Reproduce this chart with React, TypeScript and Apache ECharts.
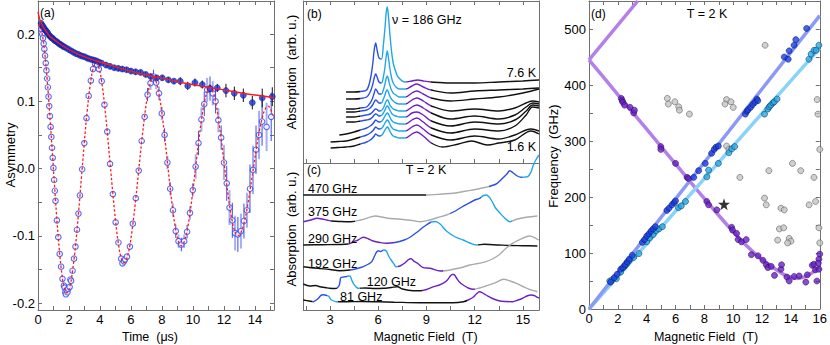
import React, { useEffect, useRef } from 'react';
import * as echarts from 'echarts';

const FONT = '"Liberation Sans", Arial, Helvetica, sans-serif';
const AXC = '#707070';
const K = '#111111';
const BLUE = '#2a4fe6';
const CYAN = '#22a6e6';
const PURPLE = '#6c1fc6';
const GREY = '#aaaaaa';

// ---------------- Panel (a): asymmetry vs time ----------------
const zfData = [
  [0.2,0.216],[0.27,0.213],[0.34,0.211],[0.41,0.208],[0.48,0.206],[0.55,0.204],[0.62,0.202],[0.69,0.199],[0.77,0.197],[0.85,0.195],[0.93,0.194],[1.01,0.192],[1.1,0.190],[1.2,0.189],[1.3,0.187],[1.4,0.185],[1.5,0.184],[1.6,0.182],[1.7,0.181],[1.85,0.179],[2.0,0.177],[2.15,0.175],[2.3,0.173],[2.45,0.171],[2.6,0.170],[2.75,0.168],[2.9,0.167],[3.05,0.166],[3.2,0.164],[3.35,0.163],[3.5,0.162],[3.65,0.161],[3.8,0.160],[3.95,0.158],[4.1,0.157],
  [4.39,0.154],[4.65,0.152],[4.92,0.150],[5.18,0.149],[5.44,0.148],[5.72,0.147],[6.0,0.145],[6.3,0.144],[6.62,0.143],[6.95,0.140],[7.27,0.137],[7.66,0.135],[8.02,0.135],[8.41,0.132],[8.77,0.130],[9.18,0.130],[9.66,0.123],[10.13,0.128],[10.6,0.125],[11.1,0.119],[11.57,0.120],[12.13,0.116],[12.67,0.112],[13.25,0.109],[13.83,0.098],[14.47,0.105],[15.12,0.107]
];
const zfErrBands = [[4.2,0.002],[9,0.004],[12,0.006],[14,0.01],[16,0.014]];

const tfData = [
  [0.23,0.207],[0.275,0.200],[0.32,0.194],[0.365,0.186],[0.41,0.178],[0.455,0.168],[0.5,0.157],[0.545,0.146],[0.59,0.134],[0.635,0.121],[0.68,0.107],[0.725,0.093],[0.77,0.078],[0.815,0.062],[0.86,0.047],[0.905,0.031],[0.95,0.016],[0.995,0.001],[1.04,-0.017],[1.085,-0.033],[1.13,-0.048],[1.22,-0.077],[1.31,-0.102],[1.4,-0.127],[1.49,-0.146],[1.58,-0.164],[1.67,-0.174],[1.72,-0.177],[1.76,-0.184],[1.8,-0.187],[1.85,-0.181],[1.9,-0.184],[1.945,-0.179],[2.04,-0.176],[2.09,-0.165],[2.135,-0.167],[2.23,-0.152],[2.325,-0.134],[2.42,-0.116],[2.515,-0.091],[2.61,-0.067],[2.705,-0.040],
  [2.85,-0.001],[2.99,0.038],[3.13,0.075],[3.27,0.108],[3.41,0.131],[3.55,0.148],[3.68,0.156],[3.82,0.154],
  [3.93,0.148],[4.11,0.130],[4.29,0.095],[4.47,0.055],[4.65,0.007],[4.83,-0.038],[5.01,-0.080],[5.19,-0.110],[5.37,-0.134],[5.45,-0.141],[5.55,-0.138],[5.62,-0.135],
  [5.74,-0.131],[5.93,-0.116],[6.12,-0.082],[6.31,-0.044],[6.5,-0.003],[6.69,0.041],[6.88,0.077],[7.07,0.110],[7.26,0.127],[7.45,0.137],
  [7.63,0.128],[7.81,0.112],[7.99,0.082],[8.17,0.050],[8.35,0.009],[8.53,-0.030],[8.71,-0.062],[8.89,-0.093],[9.07,-0.108],[9.25,-0.113],
  [9.435,-0.108],[9.62,-0.094],[9.805,-0.066],[9.99,-0.032],[10.175,0.003],[10.36,0.038],[10.545,0.073],[10.73,0.096],[10.915,0.117],[11.1,0.119],
  [11.28,0.112],[11.46,0.100],[11.64,0.072],[11.82,0.046],[12.0,0.009],[12.18,-0.022],[12.36,-0.058],[12.54,-0.077],[12.72,-0.096],[12.9,-0.098],
  [13.095,-0.093],[13.29,-0.078],[13.485,-0.062],[13.68,-0.030],[13.875,-0.002],[14.07,0.028],[14.265,0.050],[14.46,0.070],[14.75,0.062],[15.05,0.077]
];
const tfErrBands = [[3,0.003],[7,0.004],[10,0.01],[12,0.018],[13.5,0.026],[16,0.036]];

const zfFit = [
  [0,0.233],[0.1,0.223],[0.2,0.217],[0.34,0.211],[0.5,0.205],[0.77,0.197],[1.2,0.189],[1.85,0.179],[2.5,0.171],[3.14,0.165],[3.79,0.160],[4.5,0.155],[5.5,0.148],[6.5,0.142],[7.5,0.137],[8.5,0.132],[9.5,0.127],[10.5,0.123],[11.5,0.119],[12.5,0.115],[13.5,0.111],[14.5,0.108],[15.23,0.105]
];
const tfFit = [
  [0.05,0.215],[0.23,0.205],[0.41,0.177],[0.59,0.133],[0.77,0.077],[0.95,0.015],[1.13,-0.047],[1.31,-0.103],[1.49,-0.147],[1.67,-0.175],[1.85,-0.185],
  [2.04,-0.177],[2.23,-0.152],[2.42,-0.115],[2.61,-0.067],[2.8,-0.014],[2.99,0.039],[3.18,0.087],[3.37,0.124],[3.56,0.149],[3.75,0.157],
  [3.93,0.150],[4.11,0.129],[4.29,0.096],[4.47,0.054],[4.65,0.0085],[4.83,-0.037],[5.01,-0.079],[5.19,-0.112],[5.37,-0.133],[5.55,-0.140],
  [5.74,-0.133],[5.93,-0.114],[6.12,-0.083],[6.31,-0.045],[6.5,-0.0025],[6.69,0.040],[6.88,0.078],[7.07,0.109],[7.26,0.128],[7.45,0.135],
  [7.63,0.129],[7.81,0.111],[7.99,0.0835],[8.17,0.0486],[8.35,0.010],[8.53,-0.0286],[8.71,-0.0635],[8.89,-0.0911],[9.07,-0.1089],[9.25,-0.115],
  [9.435,-0.109],[9.62,-0.0926],[9.805,-0.0666],[9.99,-0.0338],[10.175,0.0025],[10.36,0.0388],[10.545,0.0716],[10.73,0.0976],[10.915,0.1143],[11.1,0.120],
  [11.28,0.1146],[11.46,0.099],[11.64,0.0747],[11.82,0.044],[12.0,0.010],[12.18,-0.024],[12.36,-0.0547],[12.54,-0.079],[12.72,-0.0946],[12.9,-0.100],
  [13.095,-0.0953],[13.29,-0.0816],[13.485,-0.0602],[13.68,-0.0333],[13.875,-0.0035],[14.07,0.0263],[14.265,0.0532],[14.46,0.0746],[14.655,0.0883],[14.85,0.093],
  [15.0,0.089],[15.15,0.079]
];

// ---------------- Panel (b): spectra at 186 GHz, 7.6 K (top) ... 1.6 K (bottom) ----------------
const specB0 = [[4.0,71],[4.5,71],[4.9,71.5],[5.28,73],[5.5,83],[5.65,98],[5.75,113],[5.84,120],[5.93,113],[6.05,105],[6.2,104],[6.32,118],[6.42,135],[6.5,151],[6.56,156],[6.63,148],[6.72,130],[6.82,113],[6.93,100],[7.1,91],[7.24,86],[7.66,81],[8.1,82],[8.45,83],[8.8,82],[9.3,81],[10.5,80],[12,80],[13.5,81],[15,82],[16,83]];
const specB1 = [[4.0,64],[4.5,64],[4.9,64.5],[5.28,66],[5.5,71],[5.65,78],[5.75,85],[5.84,89],[5.93,86],[6.05,81],[6.2,80],[6.32,86],[6.42,96],[6.5,107],[6.56,112],[6.63,106],[6.72,95],[6.82,86],[6.93,80],[7.1,76],[7.3,74],[7.7,74],[8.1,77],[8.4,79],[8.8,76],[9.3,73],[10.5,70],[12,72],[13.5,73],[15,74],[16,75]];
const specB2 = [[4.0,54],[4.5,54],[4.9,55],[5.28,56],[5.5,60],[5.65,65],[5.75,70],[5.84,74],[5.93,72],[6.05,69],[6.2,69],[6.32,73],[6.42,79],[6.5,85],[6.56,87],[6.63,84],[6.72,78],[6.82,73],[6.93,70],[7.1,68],[7.3,66],[7.7,66],[8.1,70],[8.4,72],[8.8,69],[9.3,65],[10.5,62],[12,64],[13.5,66],[15,70],[16,74]];
const specB3 = [[4.0,51],[4.5,51],[4.9,52],[5.28,53],[5.5,55],[5.65,58],[5.75,61],[5.84,63],[5.93,62],[6.05,60],[6.2,60],[6.32,64],[6.42,68],[6.5,72],[6.56,73],[6.63,71],[6.72,67],[6.82,64],[6.93,62],[7.1,60],[7.3,59],[7.7,59],[8.1,63],[8.4,65],[8.8,62],[9.3,57],[10.5,52],[12,54],[13.5,52],[14.5,55],[15.2,60],[15.6,62],[16,61]];
const specB4 = [[4.0,46],[4.5,46],[4.9,47],[5.28,48],[5.5,49],[5.65,51],[5.75,53],[5.84,54],[5.93,53.5],[6.05,52],[6.2,52.5],[6.32,55],[6.42,59],[6.5,62],[6.56,63],[6.63,62],[6.72,58],[6.82,56],[6.93,54],[7.1,53],[7.3,52],[7.7,52],[8.1,56],[8.4,58],[8.8,55],[9.3,50],[10.5,44],[12,47],[13.5,44],[14.5,48],[15.2,56],[15.6,60],[16,59]];
const specB5 = [[4.0,41],[4.5,41],[4.9,42],[5.28,43],[5.5,44],[5.65,46],[5.75,48],[5.84,49],[5.93,48.5],[6.05,47],[6.2,47.5],[6.32,50],[6.42,53],[6.5,56],[6.56,57],[6.63,56],[6.72,53],[6.82,50],[6.93,48],[7.1,47],[7.3,46],[7.7,46],[8.1,50],[8.4,51],[8.8,48],[9.3,42],[10.5,37],[12,41],[13.5,39],[14.5,43],[15.2,52],[15.6,58],[16,57]];
const specB6 = [[3.58,28],[4.0,29],[4.5,31],[4.9,33],[5.28,35],[5.5,37],[5.65,39],[5.75,41],[5.84,43],[5.93,42],[6.05,41],[6.2,41.5],[6.32,44],[6.42,47],[6.5,49],[6.56,50],[6.63,49],[6.72,46],[6.82,43],[6.93,41],[7.1,40],[7.3,39],[7.7,39],[8.1,43],[8.4,45],[8.8,41],[9.3,35],[10.5,30],[12,34],[13.5,32],[14.5,37],[15.2,48],[15.6,56],[16,55]];
const specB7 = [[3.04,21],[3.5,21.5],[4.0,22],[4.5,24],[4.9,26],[5.28,28],[5.5,30],[5.65,32],[5.75,34],[5.84,36],[5.93,35],[6.05,34],[6.2,34.5],[6.32,37],[6.42,40],[6.5,42],[6.56,43],[6.63,42],[6.72,39],[6.82,36],[6.93,34],[7.1,33],[7.3,32],[7.7,32],[8.1,36],[8.4,38],[8.8,34],[9.3,28],[10.5,23],[12,27],[13.5,24],[14.5,28],[15.5,34],[16,32]];
const specB8 = [[3.04,15],[3.5,15.5],[4.0,16],[4.5,17],[4.9,19],[5.28,21],[5.5,23],[5.65,25],[5.75,27],[5.84,29],[5.93,28],[6.05,27],[6.2,27.5],[6.32,30],[6.42,33],[6.5,35],[6.56,36],[6.63,35],[6.72,32],[6.82,29],[6.93,27],[7.1,26],[7.3,25],[7.7,25],[8.1,29],[8.4,31],[8.8,27],[9.3,20],[10.0,16],[11,19],[11.8,22],[12.8,18],[13.5,20],[14.5,23],[15.5,32],[16,29]];
const spectraB = [specB0, specB1, specB2, specB3, specB4, specB5, specB6, specB7, specB8];
const colorBoundsB = [4.85, 6.15, 7.7, 9.3];
const colorsB = [K, BLUE, CYAN, PURPLE, K];

// ---------------- Panel (c): spectra at T = 2 K ----------------
const spec470 = [[1.34,115],[3,115],[5,115],[7,115],[8.5,115],[9.0,115],[10.0,116],[10.66,116.7],[11.5,119],[12.2,121],[12.7,122.7],[13.0,124],[13.4,126.7],[13.75,132],[14.0,136],[14.18,139.3],[14.4,137],[14.65,134],[14.9,132.7],[15.15,133],[15.3,133.3],[15.5,138],[15.65,145],[15.8,150],[16.0,155]];
const spec375 = [[1.34,88.3],[1.8,90],[2.2,91.7],[2.5,91],[2.8,90],[3.1,89],[3.7,88.5],[4.3,88.3],[4.9,90],[5.6,93.3],[5.8,94],[6.5,92],[7.4,90.7],[8.3,89],[8.6,88.3],[9.2,90],[9.7,92.5],[10.24,95],[10.8,99],[11.2,103],[11.7,107.3],[12.0,110],[12.3,111.7],[12.55,114.5],[12.73,115],[12.9,113],[13.1,108],[13.3,102],[13.5,98.3],[13.8,93],[14.2,88.3],[14.6,90.7],[15.2,92.7],[15.9,94]];
const spec290 = [[1.34,65],[2.5,65.3],[3.5,65.5],[4.14,66],[4.5,68.5],[4.75,70],[5.07,72.7],[5.4,71],[5.68,69],[6.1,67.5],[6.5,66.7],[7.04,67.5],[7.62,70],[8.0,73],[8.45,78.3],[8.9,84],[9.3,88],[9.55,88.5],[9.85,86],[10.24,79],[10.8,73],[11.28,70],[11.7,67],[12.1,65],[12.6,65.7],[13.5,65],[14.2,64.5],[15,64.3],[15.9,64]];
const spec192 = [[1.34,43.3],[2.2,41.7],[3.0,40.5],[3.6,39.3],[4.24,40],[4.7,41.5],[5.07,43.3],[5.4,46],[5.6,48.3],[5.8,55],[5.9,58],[6.0,59.3],[6.15,58.5],[6.35,60],[6.5,59],[6.65,54],[6.8,50],[7.0,45.5],[7.1,43.3],[7.35,44],[7.63,46.7],[7.85,50],[8.04,51.3],[8.25,48.5],[8.45,46.7],[8.76,42.7],[9.24,41.7],[9.86,39],[10.3,39.5],[10.66,40.7],[11.2,42.5],[11.7,45],[12.2,46.5],[12.7,48.3],[13.1,51],[13.5,55],[13.9,61],[14.35,66.7],[14.97,71.7],[15.4,74],[15.8,71.7],[16,70]];
const spec120 = [[1.34,26],[1.75,24],[2.1,24.5],[2.37,23.3],[2.7,22.5],[2.99,21.7],[3.3,21.5],[3.45,22],[3.58,25],[3.66,32],[3.73,32.7],[3.85,33],[3.93,33.3],[4.04,33.5],[4.15,34],[4.24,34],[4.35,30],[4.45,26.7],[4.6,23.5],[4.75,21.7],[5.2,22],[5.8,21.5],[6.3,21.7],[6.8,22.5],[7.2,23.3],[7.5,21],[8.17,19.3],[8.6,19.3],[9.0,20.5],[9.45,23.3],[9.8,25],[10.1,27.3],[10.3,30],[10.45,33.3],[10.6,35.5],[10.7,35.5],[10.87,32],[11.05,28],[11.28,25],[11.6,22],[11.9,20.7],[12.3,22],[12.7,24],[13.3,27.3],[13.8,30.7],[14.2,29],[14.6,26.7],[15.0,23.5],[15.4,20.7],[15.9,18.3]];
const spec81 = [[1.34,10],[1.7,9],[1.96,8.3],[2.15,10],[2.27,11.7],[2.4,14],[2.48,15],[2.6,15.2],[2.68,15],[2.8,14.5],[2.9,14],[3.0,12],[3.1,10],[3.41,8.3],[4,8.3],[5,8.5],[6,8.2],[7,7.8],[8.6,7.3],[9.6,7.3],[10.66,7.3],[11.3,8.3],[11.6,10],[11.9,12.7],[12.1,16],[12.3,18.3],[12.5,17],[12.7,15],[13.1,11.5],[13.5,9.3],[13.9,8.5],[14.35,8.3],[14.7,10],[14.97,11.7],[15.25,14],[15.5,15],[15.7,14.5],[15.9,12.7],[16,12]];
const spectraC = [spec470, spec375, spec290, spec192, spec120, spec81];
const freqLabelsC = ['470 GHz', '375 GHz', '290 GHz', '192 GHz', '120 GHz', '81 GHz'];
const colorBoundsC = [
  [9.0, 12.9, 14.95],
  [3.05, 4.55, 10.45, 12.4, 14.3],
  [4.14, 7.0, 9.3, 12.2],
  [4.24, 6.3, 7.25, 10.0],
  [3.45, 4.04, 4.86, 8.7, 12.0],
  [1.86, 2.79, 3.5, 11.5],
];
const colorsC = [
  [K, GREY, BLUE, CYAN],
  [PURPLE, K, GREY, BLUE, CYAN, GREY],
  [K, PURPLE, BLUE, CYAN, K],
  [K, BLUE, CYAN, PURPLE, GREY],
  [K, BLUE, CYAN, K, PURPLE, GREY],
  [K, BLUE, CYAN, K, PURPLE],
];

// ---------------- Panel (d): frequency-field diagram ----------------
const fitPurpleUp = [[0,445],[3.38,550]];
const fitPurpleDown = [[0,445],[1,414],[2,383],[3,352],[4,321],[5,290],[6,259],[7,228],[8,197],[9,167],[10,138],[11,111],[12,88],[13,70],[13.7,59],[14.3,55],[14.8,56],[15.3,62],[15.7,69],[16,76]];
const fitBlue = [[0,0],[16,524]];
const fitLightBlue = [[0,0],[16,466]];
const dotsBlue = [[1.5,48],[1.75,56],[1.95,62],[2.2,71],[2.35,74],[2.5,79],[2.65,84],[2.8,89],[3.0,96],[3.7,119],[3.85,124],[4.0,130],[4.15,134],[4.3,139],[4.45,143],[4.6,147],[5.4,176],[5.55,180],[5.75,186],[5.9,190],[6.0,193],[7.26,235],[7.6,247],[8.06,260],[8.5,278],[8.68,285],[8.8,289],[8.97,291],[10.84,348],[10.95,353],[11.03,356],[11.2,360],[11.35,365],[11.5,369],[11.64,375],[11.7,372],[13.54,450],[13.81,446],[13.88,461],[14.22,471],[14.34,481],[15.09,501]];
const dotsLightBlue = [[1.44,50],[1.6,52],[1.9,54],[2.2,66],[2.44,75],[2.6,80],[2.78,86],[3.1,92],[3.46,99],[4.0,120],[4.2,127],[4.45,133],[4.65,140],[4.85,143],[5.09,147],[6.2,181],[6.4,184],[6.69,192],[8.17,236],[8.29,248],[8.97,260],[9.7,279],[9.9,286],[10.1,290],[12.17,348],[12.4,357],[12.5,361],[12.6,364],[12.75,368],[12.85,370],[13.04,375],[15.25,446],[15.4,455],[15.6,462],[15.75,462],[15.94,471]];
const dotsPurple = [[2.24,376],[2.3,372],[2.35,369],[2.47,364],[2.85,360],[3.1,350],[3.15,355],[4.98,290],[4.98,285],[6.0,260],[6.8,235],[6.9,233],[8.17,192],[8.29,186],[8.86,177],[9.89,146],[9.95,141],[10.23,135],[10.34,124],[10.57,120],[10.9,124],[11.26,97],[11.72,95],[12.06,87],[12.29,79],[12.4,74],[12.63,76],[12.86,60],[13.31,71],[13.35,79],[13.72,57],[13.88,50],[14.22,58],[14.57,59],[15.03,48],[15.14,61],[15.48,78],[15.7,70],[15.8,50],[15.94,71],[15.94,89],[16.0,98],[15.6,80],[15.9,82]];
const dotsGrey = [[12.21,471],[5.43,376],[5.5,366],[5.95,370],[6.22,361],[6.27,355],[6.96,348],[9.54,374],[9.43,366],[9.84,370],[10.0,360],[15.82,374],[15.87,348],[16.0,285],[9.54,291],[9.7,285],[10.46,235],[12.47,247],[14.11,260],[14.68,247],[15.6,235],[12.17,198],[12.29,186],[13.31,180],[13.54,177],[13.08,123],[13.2,143],[13.5,145],[13.88,126],[14.0,121],[13.77,118],[15.26,186],[15.71,192],[15.94,145],[16.0,118]];
const starPoint = [[9.36,187]];

// tick / label values
const ticksA_x = [0,1,2,3,4,5,6,7,8,9,10,11,12,13,14,15];
const labelsA_x = [0,2,4,6,8,10,12,14];
const ticksA_y = [-0.2,-0.15,-0.1,-0.05,0,0.05,0.1,0.15,0.2];
const labelsA_y = [-0.2,-0.1,0,0.1,0.2];
const ticksBC_x = [1.5,3,4.5,6,7.5,9,10.5,12,13.5,15];
const labelsBC_x = [3,6,9,12,15];
const ticksD_x = [0,1,2,3,4,5,6,7,8,9,10,11,12,13,14,15,16];
const labelsD_x = [0,2,4,6,8,10,12,14,16];
const ticksD_y = [0,50,100,150,200,250,300,350,400,450,500,550];
const labelsD_y = [0,100,200,300,400,500];

function errFor(t: number, bands: number[][]) {
  for (const b of bands) if (t < b[0]) return b[1];
  return bands[bands.length - 1][1];
}

function axis(p: any) {
  return {
    type: 'value',
    gridIndex: p.grid,
    position: p.position,
    min: p.min,
    max: p.max,
    axisLine: { show: true, onZero: false, lineStyle: { color: AXC, width: 1 } },
    axisTick: p.ticks
      ? { show: true, inside: true, length: 4, customValues: p.ticks, lineStyle: { color: AXC, width: 1 } }
      : { show: false },
    axisLabel: p.labels
      ? { show: true, customValues: p.labels, formatter: p.fmt, color: '#000', fontSize: 13, fontFamily: FONT, margin: 3 }
      : { show: false },
    splitLine: { show: false },
  };
}

function piecesFor(bounds: number[], colors: string[]) {
  const out: any[] = [];
  for (let i = 0; i < colors.length; i++) {
    const pc: any = { color: colors[i] };
    if (i > 0) pc.gte = bounds[i - 1];
    if (i < bounds.length) pc.lt = bounds[i];
    out.push(pc);
  }
  return out;
}

function errSeries(data: number[][], xi: number, yi: number, colorFn: (i: number) => string, widthFn: (i: number) => number) {
  return {
    type: 'custom',
    xAxisIndex: xi,
    yAxisIndex: yi,
    data,
    encode: { x: 0, y: 1 },
    silent: true,
    z: 1,
    renderItem: (params: any, api: any) => {
      const x = api.value(0);
      const y = api.value(1);
      const e = api.value(2);
      const p1 = api.coord([x, y - e]);
      const p2 = api.coord([x, y + e]);
      return {
        type: 'line',
        shape: { x1: p1[0], y1: p1[1], x2: p2[0], y2: p2[1] },
        style: { stroke: colorFn(params.dataIndex), lineWidth: widthFn(params.dataIndex) },
      };
    },
  };
}

function text(t: string, x: number, y: number, opts: any = {}) {
  return {
    type: 'text',
    x,
    y,
    rotation: opts.rot || 0,
    z: 50,
    style: {
      text: t,
      fill: '#000',
      fontSize: opts.size || 13,
      fontFamily: FONT,
      align: opts.align || 'left',
      verticalAlign: 'middle',
    },
  };
}

function buildOption() {
  const series: any[] = [];
  const visualMaps: any[] = [];

  // ---- panel (a) ----
  const zfErr = zfData.map((d) => [d[0], d[1], errFor(d[0], zfErrBands)]);
  const tfErr = tfData.map((d) => [d[0], d[1], errFor(d[0], tfErrBands)]);
  series.push(errSeries(tfErr, 0, 0, (i) => (i % 2 ? '#3a4cf0' : 'rgba(150,160,240,0.85)'), (i) => (i % 2 ? 1 : 2)));
  series.push(errSeries(zfErr, 0, 0, () => '#111', () => 1));
  series.push({
    type: 'scatter', xAxisIndex: 0, yAxisIndex: 0, data: tfData, symbol: 'circle', symbolSize: 5.5, z: 3,
    itemStyle: { color: '#ffffff', borderColor: '#2a46f6', borderWidth: 1.1 },
  });
  series.push({
    type: 'scatter', xAxisIndex: 0, yAxisIndex: 0, data: zfData, symbol: 'circle', symbolSize: 6, z: 3,
    itemStyle: { color: '#1332e0', borderColor: '#0a1470', borderWidth: 0.6 },
  });
  series.push({
    type: 'line', xAxisIndex: 0, yAxisIndex: 0, data: zfFit, smooth: 0.4, showSymbol: false, z: 5,
    lineStyle: { color: '#ff1a1a', width: 1.4 },
  });
  series.push({
    type: 'line', xAxisIndex: 0, yAxisIndex: 0, data: tfFit, smooth: 0.4, showSymbol: false, z: 5,
    lineStyle: { color: '#ff1a1a', width: 1.3, type: [2.5, 2] },
  });

  // ---- panel (b) ----
  const bIdx: number[] = [];
  spectraB.forEach((s) => {
    bIdx.push(series.length);
    series.push({
      type: 'line', xAxisIndex: 2, yAxisIndex: 2, data: s, smooth: 0.35, showSymbol: false,
      lineStyle: { width: 1.4 },
    });
  });
  visualMaps.push({ type: 'piecewise', show: false, dimension: 0, seriesIndex: bIdx, pieces: piecesFor(colorBoundsB, colorsB) });

  // ---- panel (c) ----
  spectraC.forEach((s, i) => {
    const idx = series.length;
    series.push({
      type: 'line', xAxisIndex: 4, yAxisIndex: 4, data: s, smooth: 0.35, showSymbol: false, clip: i !== 0,
      lineStyle: { width: 1.4 },
    });
    visualMaps.push({ type: 'piecewise', show: false, dimension: 0, seriesIndex: idx, pieces: piecesFor(colorBoundsC[i], colorsC[i]) });
  });

  // ---- panel (d) ----
  const lineD = (data: number[][], color: string, smooth: number) => ({
    type: 'line', xAxisIndex: 6, yAxisIndex: 6, data, smooth, showSymbol: false, z: 2,
    lineStyle: { color, width: 3.5 },
  });
  series.push(lineD(fitPurpleUp, '#b57fe8', 0));
  series.push(lineD(fitPurpleDown, '#b57fe8', 0.3));
  series.push(lineD(fitLightBlue, '#88d3f7', 0));
  series.push(lineD(fitBlue, '#8a99f6', 0));
  const dotD = (data: number[][], color: string, border: string) => ({
    type: 'scatter', xAxisIndex: 6, yAxisIndex: 6, data, symbol: 'circle', symbolSize: 6, z: 4,
    itemStyle: { color, borderColor: border, borderWidth: 0.7 },
  });
  series.push(dotD(dotsGrey, '#c4c4c4', '#555'));
  series.push(dotD(dotsPurple, '#6a1fc8', '#2a0a50'));
  series.push(dotD(dotsLightBlue, '#25aae8', '#0a3050'));
  series.push(dotD(dotsBlue, '#1a3ee8', '#0a1460'));
  series.push({
    type: 'scatter', xAxisIndex: 6, yAxisIndex: 6, data: starPoint, z: 6,
    symbol: 'path://M12,0 L14.8,8.6 L24,8.6 L16.6,14 L19.4,22.8 L12,17.4 L4.6,22.8 L7.4,14 L0,8.6 L9.2,8.6 Z',
    symbolSize: 12, itemStyle: { color: '#000' },
  });

  const fmtA = (v: number) => v.toFixed(1);
  const fmtI = (v: number) => String(Math.round(v));

  const xAxes = [
    axis({ grid: 0, position: 'bottom', min: 0, max: 15.23, ticks: ticksA_x, labels: labelsA_x, fmt: fmtI }),
    axis({ grid: 0, position: 'top', min: 0, max: 15.23, ticks: ticksA_x }),
    axis({ grid: 1, position: 'bottom', min: 1.34, max: 16.0, ticks: ticksBC_x }),
    axis({ grid: 1, position: 'top', min: 1.34, max: 16.0, ticks: ticksBC_x }),
    axis({ grid: 2, position: 'bottom', min: 1.34, max: 16.0, ticks: ticksBC_x, labels: labelsBC_x, fmt: fmtI }),
    axis({ grid: 2, position: 'top', min: 1.34, max: 16.0 }),
    axis({ grid: 3, position: 'bottom', min: 0, max: 16, ticks: ticksD_x, labels: labelsD_x, fmt: fmtI }),
    axis({ grid: 3, position: 'top', min: 0, max: 16, ticks: ticksD_x }),
  ];
  const yAxes = [
    axis({ grid: 0, position: 'left', min: -0.2104, max: 0.2493, ticks: ticksA_y, labels: labelsA_y, fmt: fmtA }),
    axis({ grid: 0, position: 'right', min: -0.2104, max: 0.2493, ticks: ticksA_y }),
    axis({ grid: 1, position: 'left', min: 0, max: 162 }),
    axis({ grid: 1, position: 'right', min: 0, max: 162 }),
    axis({ grid: 2, position: 'left', min: 0, max: 147 }),
    axis({ grid: 2, position: 'right', min: 0, max: 147 }),
    axis({ grid: 3, position: 'left', min: 0, max: 550, ticks: ticksD_y, labels: labelsD_y, fmt: fmtI }),
    axis({ grid: 3, position: 'right', min: 0, max: 550, ticks: ticksD_y }),
  ];

  const labelPos = [[308, 189], [308, 212], [308, 239], [308, 264], [366.7, 282], [340, 297]];

  const graphics: any[] = [
    text('(a)', 40, 13, { size: 12 }),
    text('Asymmetry', 10, 155, { rot: Math.PI / 2, align: 'center' }),
    text('Time  (\u03bcs)', 150, 336.5, { align: 'center', size: 12.5 }),
    text('(b)', 307, 14, { size: 12 }),
    text('\u03bd = 186 GHz', 392, 20, { size: 12.5 }),
    text('7.6 K', 536, 73, { size: 12.5, align: 'right' }),
    text('1.6 K', 536, 147, { size: 12.5, align: 'right' }),
    text('Absorption  (arb. u.)', 291, 72, { rot: Math.PI / 2, align: 'center' }),
    text('(c)', 307, 170, { size: 12 }),
    text('T = 2 K', 426, 170, { size: 12.5, align: 'center' }),
    text('Absorption  (arb. u.)', 291, 229, { rot: Math.PI / 2, align: 'center' }),
    text('Magnetic Field  (T)', 425.5, 336.5, { align: 'center', size: 12.5 }),
    text('(d)', 591, 14, { size: 12 }),
    text('T = 2 K', 707, 14, { size: 12.5, align: 'center' }),
    text('Frequency  (GHz)', 553, 156, { rot: Math.PI / 2, align: 'center' }),
    text('Magnetic Field  (T)', 706, 336.5, { align: 'center', size: 12.5 }),
  ];
  freqLabelsC.forEach((l, i) => graphics.push(text(l, labelPos[i][0], labelPos[i][1], { size: 12.5 })));

  return {
    animation: false,
    backgroundColor: '#ffffff',
    textStyle: { fontFamily: FONT },
    grid: [
      { left: 38, top: 1, width: 236, height: 309 },
      { left: 303.3, top: 1, width: 235.7, height: 162 },
      { left: 303.3, top: 163, width: 235.7, height: 147 },
      { left: 589, top: 1, width: 234, height: 308 },
    ],
    xAxis: xAxes,
    yAxis: yAxes,
    visualMap: visualMaps,
    series,
    graphic: { elements: graphics },
  };
}

export default function App() {
  const ref = useRef<HTMLDivElement>(null);
  useEffect(() => {
    document.body.style.margin = '0';
    const chart = echarts.init(ref.current!, null, { renderer: 'svg' });
    chart.setOption(buildOption() as any);
    return () => chart.dispose();
  }, []);
  return <div ref={ref} style={{ width: 830, height: 345 }} />;
}
